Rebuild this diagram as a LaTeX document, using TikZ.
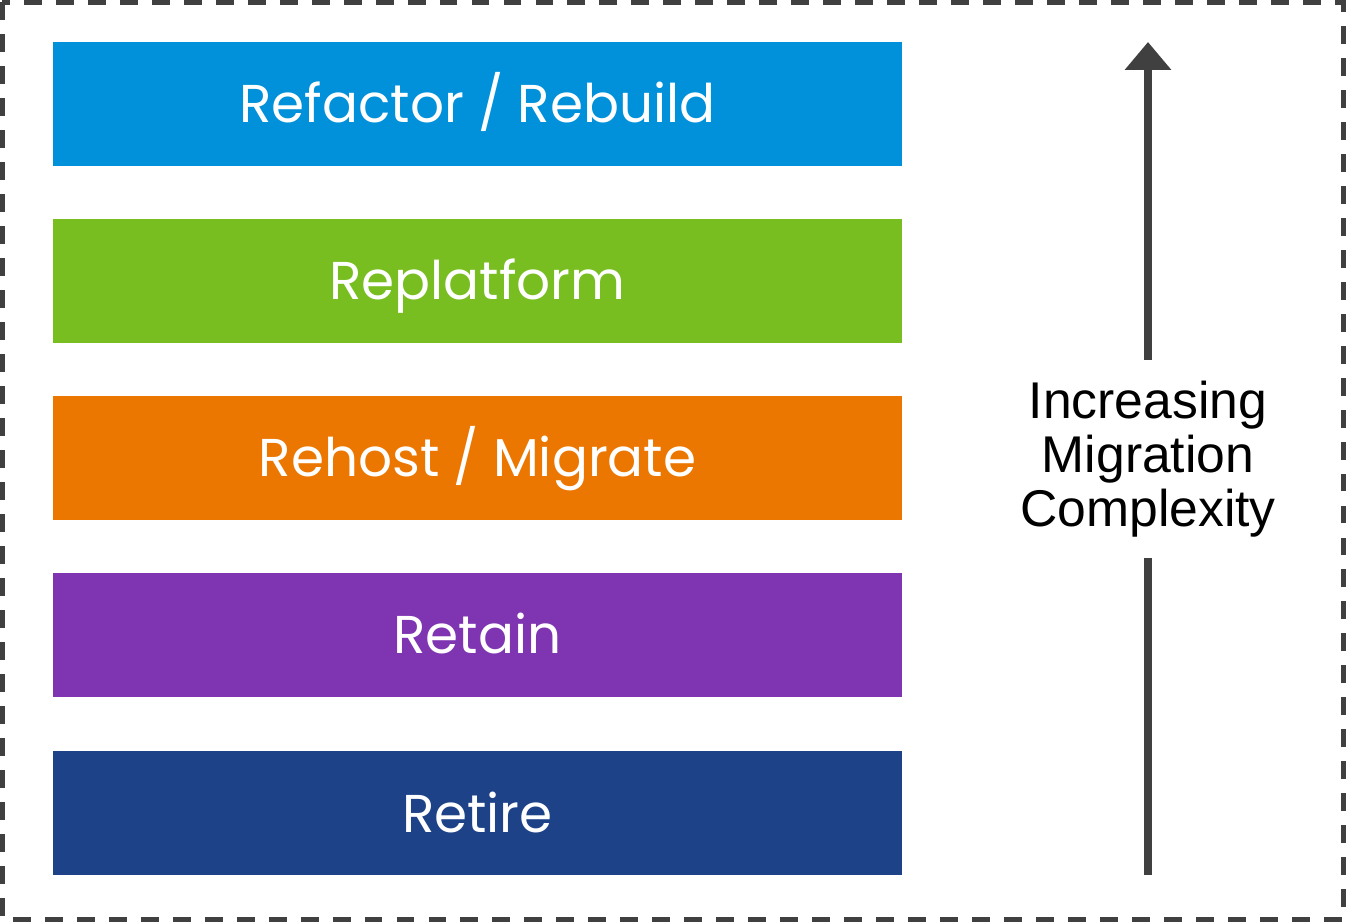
\documentclass[tikz,border=0pt]{standalone}
\usepackage{fontspec}
\setmainfont{Poppins}
\newfontfamily\arialfont{Liberation Sans}
\usepackage{tikz}
\usetikzlibrary{arrows.meta}

\definecolor{cblue}{HTML}{0091DA}
\definecolor{cgreen}{HTML}{78BE20}
\definecolor{corange}{HTML}{EC7700}
\definecolor{cpurple}{HTML}{7F35B2}
\definecolor{cnavy}{HTML}{1D4288}
\definecolor{cgray}{HTML}{404040}

\tikzset{
  stepbox/.style={minimum width=16.98cm,minimum height=2.48cm,inner sep=0pt,text=white,
    text height=0.76cm,text depth=0cm,font=\fontsize{30.3}{30.3}\selectfont},
  uparrow/.style={draw=cgray,line width=4pt}
}

\begin{document}
\begin{tikzpicture}[x=0.02cm,y=-0.02cm]
\useasboundingbox (0,0) rectangle (1346,922);
\draw[cgray,line width=2.85pt,dash pattern=on 10.2pt off 8pt] (2.5,2.5) rectangle (1343.5,919.5);

\node[stepbox,fill=cblue] (refactor) at (477.5,104) {Refactor / Rebuild};
\node[stepbox,fill=cgreen] (replatform) at (477.5,281) {Replatform};
\node[stepbox,fill=corange] (rehost) at (477.5,458) {Rehost / Migrate};
\node[stepbox,fill=cpurple] (retain) at (477.5,635) {Retain};
\node[stepbox,fill=cnavy] (retire) at (477.5,813) {Retire};

\coordinate (bot) at (1148,875);
\coordinate (top) at (1148,42);
\node[align=center,inner xsep=0pt,inner ysep=0pt,minimum height=198*0.02cm,
  font=\arialfont\fontsize{29.4}{30.6}\selectfont] (lbl) at (1148,459)
  {Increasing\\Migration\\Complexity};
\draw[uparrow] (bot) -- (lbl.south);
\draw[uparrow,-{Triangle[width=0.9cm,length=0.56cm]}] (lbl.north) -- (top);
\end{tikzpicture}
\end{document}
